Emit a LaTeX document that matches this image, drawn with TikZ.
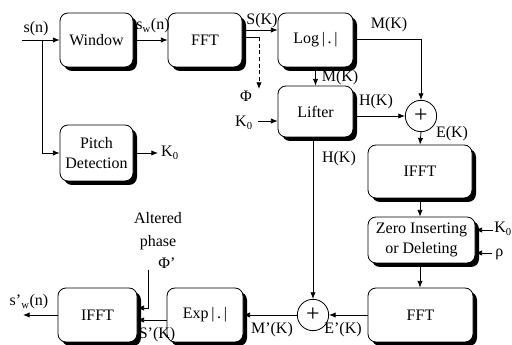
\documentclass[tikz,border=0pt]{standalone}
\usepackage{fontspec}
\setmainfont{Liberation Serif}
\usetikzlibrary{shadows,arrows.meta}
\begin{document}
\begin{tikzpicture}[x=0.75pt,y=-0.75pt, font=\fontsize{12}{15.5}\selectfont,
 blk/.style={draw, rounded corners=6pt, fill=white, line width=0.6pt,
   drop shadow={shadow xshift=3pt, shadow yshift=-3pt, fill=black, opacity=1},
   align=center, inner sep=1pt},
 sumc/.style={draw, circle, fill=white, minimum size=23.5pt, inner sep=0pt, line width=0.6pt, font=\fontsize{18}{18}\selectfont},
 conn/.style={-{Latex[length=5pt,width=4pt]}, line width=0.6pt},
 line/.style={line width=0.6pt},
 lbl/.style={inner sep=1pt}]
\useasboundingbox (0,0) rectangle (512,345);

% blocks
\node[blk, minimum width=54.75pt, minimum height=40.5pt] (win) at (96.5,40) {Window};
\node[blk, minimum width=55.5pt, minimum height=40.5pt] (fft1) at (205,40) {FFT};
\node[blk, minimum width=56.25pt, minimum height=40.5pt] (log) at (315.5,40) {Log\,|\,.\,|};
\node[blk, minimum width=56.25pt, minimum height=38.25pt] (lift) at (315.5,111.5) {Lifter};
\node[blk, minimum width=54.75pt, minimum height=42pt] (pitch) at (96.5,153) {Pitch\\Detection};
\node[blk, minimum width=78pt, minimum height=39.75pt] (ifft1) at (420,171.5) {IFFT};
\node[blk, minimum width=80.25pt, minimum height=34.5pt, font=\fontsize{12}{14.5}\selectfont] (zero) at (421.5,240) {Zero Inserting\\or Deleting};
\node[blk, minimum width=78.75pt, minimum height=40.5pt] (fft2) at (420.5,315) {FFT};
\node[blk, minimum width=57pt, minimum height=40.5pt] (exp) at (205,315) {Exp\,|\,.\,|};
\node[blk, minimum width=59.25pt, minimum height=40.5pt] (ifft2) at (97.5,315) {IFFT};

\node[sumc] (sum1) at (421,116) {+};
\node[sumc] (sum2) at (313,315) {+};

% free ends
\coordinate (in0) at (22,40);
\coordinate (br) at (42,40);
\coordinate (kout) at (158,153);
\coordinate (phi) at (259,89);
\coordinate (k0in) at (258,121);
\coordinate (k0r) at (493,230);
\coordinate (rhor) at (492,253);
\coordinate (phin) at (148,270);
\coordinate (out) at (23,315);

% connectors
\draw[conn] (in0) -- (win.west);
\draw[conn] (br) |- (pitch.west);
\draw[conn] (pitch.east) -- (kout);
\draw[conn] (win.east) -- (fft1.west);
\draw[conn] (fft1.east |- 0,30) -- (log.west |- 0,30);
\draw[line] (fft1.east |- 0,37) -- (phi |- 0,37);
\draw[conn, densely dashed] (phi |- 0,37) -- (phi);
\draw[conn] (log.east |- 0,39) -| (sum1.north);
\draw[conn] (log.south) -- (lift.north);
\draw[conn] (k0in) -- (lift.west |- k0in);
\draw[conn] (lift.east |- sum1) -- (sum1.west);
\draw[conn] (sum1.south) -- (ifft1.north);
\draw[conn] (lift.south -| sum2) -- (sum2.north);
\draw[conn] (ifft1.south) -- (zero.north -| ifft1);
\draw[conn] (zero.south -| ifft1) -- (fft2.north -| ifft1);
\draw[conn] (k0r) -- (zero.east |- k0r);
\draw[conn] (rhor) -- (zero.east |- rhor);
\draw[conn] (fft2.west) -- (sum2.east);
\draw[conn] (sum2.west) -- (exp.east);
\draw[conn] (exp.west |- 0,320) -- (ifft2.east |- 0,320);
\draw[conn] (phin) |- (ifft2.east |- 0,308);
\draw[conn] (ifft2.west) -- (out);

% labels
\node[lbl] (l1) at (36,29) {s(n)};
\node[lbl] (l2) at (153,26) {s\textsubscript{w}(n)};
\node[lbl] (l3) at (262,21) {S(K)};
\node[lbl] (l4) at (246,96) {Φ};
\node[lbl] (l5) at (389,25) {M(K)};
\node[lbl] (l6) at (340,78) {M(K)};
\node[lbl] (l7) at (244,123) {K\textsubscript{0}};
\node[lbl] (l8) at (376,102) {H(K)};
\node[lbl] (l9) at (452,134) {E(K)};
\node[lbl] (l10) at (339,159) {H(K)};
\node[lbl, anchor=west, inner sep=0pt] (l11) at (494,229) {K\textsubscript{0}};
\node[lbl, anchor=west, inner sep=0pt] (l12) at (495,254) {ρ};
\node[lbl] (l13) at (343,330) {E'(K)};
\node[lbl] (l14) at (272,330) {M'(K)};
\node[lbl] (l15) at (157,335) {S'(K)};
\node[lbl] (l16) at (167,263) {Φ'};
\node[lbl, align=center, font=\fontsize{12}{17}\selectfont] (l17) at (158,231) {Altered\\phase};
\node[lbl] (l18) at (29,302) {s'\textsubscript{w}(n)};
\node[lbl] (l19) at (170,153) {K\textsubscript{0}};
\end{tikzpicture}
\end{document}
